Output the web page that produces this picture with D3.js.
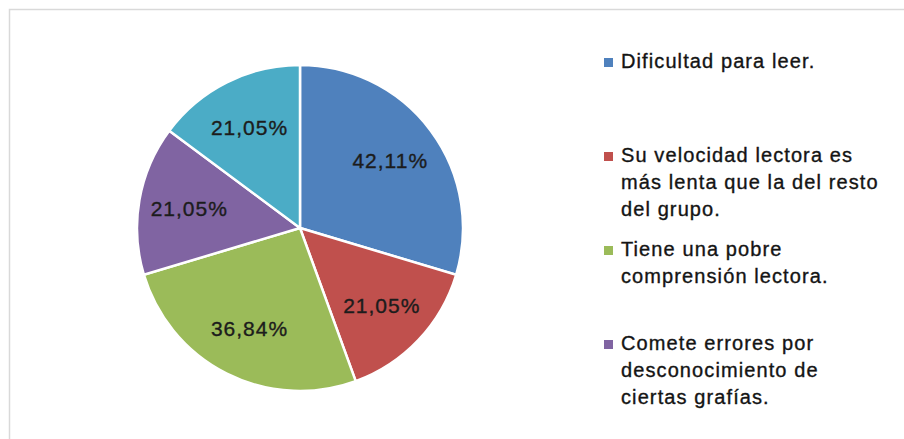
<!DOCTYPE html>
<html lang="es">
<head>
  <meta charset="UTF-8">
  <title>Dificultades lectoras</title>
  <script src="https://d3js.org/d3.v7.min.js"></script>
  <style>
    body { margin: 0; background: #fff; }
    text { font-family: "Liberation Sans", Arial, sans-serif; }
  </style>
</head>
<body>
<script>
  // Data
  const categories = [
    "Dificultad para leer.",
    "Su velocidad lectora es\nmás lenta que la del resto\ndel grupo.",
    "Tiene una pobre\ncomprensión lectora.",
    "Comete errores por\ndesconocimiento de\nciertas grafías.",
    "Otros."
  ];
  const values = [42.11, 21.05, 36.84, 21.05, 21.05];
  const valueLabels = ["42,11%", "21,05%", "36,84%", "21,05%", "21,05%"];
  const colors = ["#4f81bd", "#c0504d", "#9bbb59", "#8064a2", "#4bacc6"];

  const width = 904, height = 439;
  const cx = 300, cy = 228, radius = 163;

  const svg = d3.select("body").append("svg")
    .attr("width", width)
    .attr("height", height);

  // chart frame (runs off the right and bottom edges)
  svg.append("rect")
    .attr("x", 9.5).attr("y", 9.5)
    .attr("width", width + 20).attr("height", height + 20)
    .attr("fill", "none")
    .attr("stroke", "#d9d9d9")
    .attr("stroke-width", 1.5);

  const pie = d3.pie().sort(null).value(d => d);
  const arcs = pie(values);
  const arc = d3.arc().innerRadius(0).outerRadius(radius);
  const labelArc = d3.arc().innerRadius(radius * 0.69).outerRadius(radius * 0.69);

  const g = svg.append("g").attr("transform", `translate(${cx},${cy})`);

  g.selectAll("path")
    .data(arcs)
    .enter()
    .append("path")
    .attr("d", arc)
    .attr("fill", (d, i) => colors[i])
    .attr("stroke", "#fff")
    .attr("stroke-width", 2.5);

  g.selectAll(".lbl")
    .data(arcs)
    .enter()
    .append("text")
    .attr("class", "lbl")
    .attr("transform", d => `translate(${labelArc.centroid(d)})`)
    .attr("text-anchor", "middle")
    .attr("dy", "0.36em")
    .style("font-size", "21px")
    .style("letter-spacing", "1px")
    .style("fill", "#1c1c1c")
    .style("stroke", "#1c1c1c")
    .style("stroke-width", 0.35)
    .text((d, i) => valueLabels[i]);

  // Legend
  const legendX = 604, firstBase = 68, step = 94, lineH = 27;
  const legend = svg.append("g");
  categories.forEach((name, i) => {
    const base = firstBase + i * step;
    if (base > height - 20) return; // entry falls outside the frame
    legend.append("rect")
      .attr("x", legendX).attr("y", base - 10)
      .attr("width", 9).attr("height", 9)
      .attr("fill", colors[i]);
    const t = legend.append("text")
      .attr("x", legendX + 17).attr("y", base)
      .style("font-size", "20px")
      .style("letter-spacing", "1.1px")
      .style("fill", "#141414")
      .style("stroke", "#141414")
      .style("stroke-width", 0.35);
    name.split("\n").forEach((line, j) => {
      t.append("tspan")
        .attr("x", legendX + 17)
        .attr("y", base + j * lineH)
        .text(line);
    });
  });
</script>
</body>
</html>
